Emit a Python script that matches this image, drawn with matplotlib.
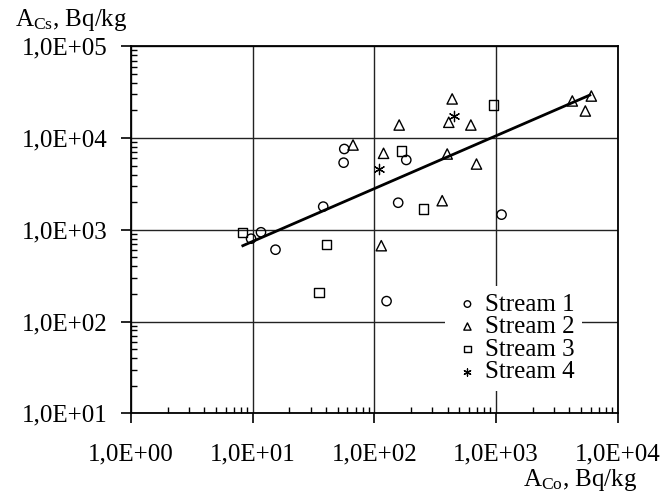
import numpy as np
import matplotlib
matplotlib.use("Agg")
import matplotlib.pyplot as plt
from matplotlib.ticker import LogLocator, NullFormatter

plt.rcParams['font.family'] = ['Liberation Serif', 'DejaVu Serif']
plt.rcParams['mathtext.fontset'] = 'custom'
plt.rcParams['mathtext.rm'] = 'Liberation Serif'
plt.rcParams['mathtext.it'] = 'Liberation Serif:italic'

# data (Bq/kg)
s1_co = [56.6, 55.9, 38, 11.7, 9.7, 15.4, 157, 183, 126, 1110]
s1_cs = [7600, 5390, 1790, 940, 800, 607, 1973, 5770, 167, 1463]

s2_co = [66.8, 119, 160, 114, 361, 436, 409, 621, 397, 691, 4235, 6070, 5420]
s2_cs = [8400, 6820, 13870, 671, 2076, 26700, 14860, 13870, 6700, 5210, 25360, 28700, 19720]

s3_co = [8.24, 40.3, 35.1, 167, 252, 959]
s3_cs = [940, 695, 208, 7230, 1686, 22900]

s4_co = [110, 450]
s4_cs = [4630, 17540]

trend_co = [8.3, 5900]
trend_cs = [671, 29400]

xticks = [1, 10, 100, 1000, 10000]
xlabels = ["1,0E+00", "1,0E+01", "1,0E+02", "1,0E+03", "1,0E+04"]
yticks = [10, 100, 1000, 10000, 100000]
ylabels = ["1,0E+01", "1,0E+02", "1,0E+03", "1,0E+04", "1,0E+05"]

fig = plt.figure(figsize=(6.69, 4.99), dpi=100)
ax = fig.add_axes([131/669, 1-413.3/499, (617.7-131)/669, (413.3-46.3)/499])

ax.set_xscale("log")
ax.set_yscale("log")
ax.set_xlim(1, 10000)
ax.set_ylim(10, 100000)

ax.grid(True, which="major", color="#222222", linewidth=1.0)
ax.set_axisbelow(True)

ax.plot(trend_co, trend_cs, color="black", linewidth=2, zorder=2)

kw = dict(facecolors="none", edgecolors="black", linewidths=1.0, zorder=3)
ax.scatter(s1_co, s1_cs, marker="o", s=45, label="Stream 1", **kw)
ax.scatter(s2_co, s2_cs, marker="^", s=55, label="Stream 2", **kw)
ax.scatter(s3_co, s3_cs, marker="s", s=45, label="Stream 3", **kw)
ax.scatter(s4_co, s4_cs, marker=(6, 2, 0), s=55, color="black", linewidths=0.9,
           label="Stream 4", zorder=3)

ax.set_xticks(xticks)
ax.set_xticklabels(xlabels)
ax.set_yticks(yticks)
ax.set_yticklabels(ylabels)
ax.xaxis.set_minor_locator(LogLocator(base=10, subs=np.arange(2, 10)))
ax.yaxis.set_minor_locator(LogLocator(base=10, subs=np.arange(2, 10)))
ax.xaxis.set_minor_formatter(NullFormatter())
ax.yaxis.set_minor_formatter(NullFormatter())

ax.tick_params(which="major", direction="out", length=7, width=1.2,
               labelsize=18, color="black")
ax.tick_params(axis="x", which="major", pad=15)
ax.tick_params(axis="y", which="major", pad=10)
ax.tick_params(which="minor", direction="in", length=4, width=1.0)

for sp in ax.spines.values():
    sp.set_linewidth(1.3)
    sp.set_color("black")

leg = ax.legend(loc="upper left", bbox_to_anchor=(0.645, 0.348), fontsize=18,
                frameon=True, edgecolor="none", facecolor="white", framealpha=1,
                borderpad=0.3, labelspacing=0.0, handletextpad=0.1,
                markerscale=0.7, handlelength=1.2, borderaxespad=0)
leg.get_frame().set_linewidth(0)

fig.text(15/669, 1-20/499, r"A$_{\mathrm{Cs}}$, Bq/kg", fontsize=18,
         ha="left", va="center")
fig.text(637/669, 1-480/499, r"A$_{\mathrm{Co}}$, Bq/kg", fontsize=18,
         ha="right", va="center")

fig.savefig("out.png", dpi=100)
